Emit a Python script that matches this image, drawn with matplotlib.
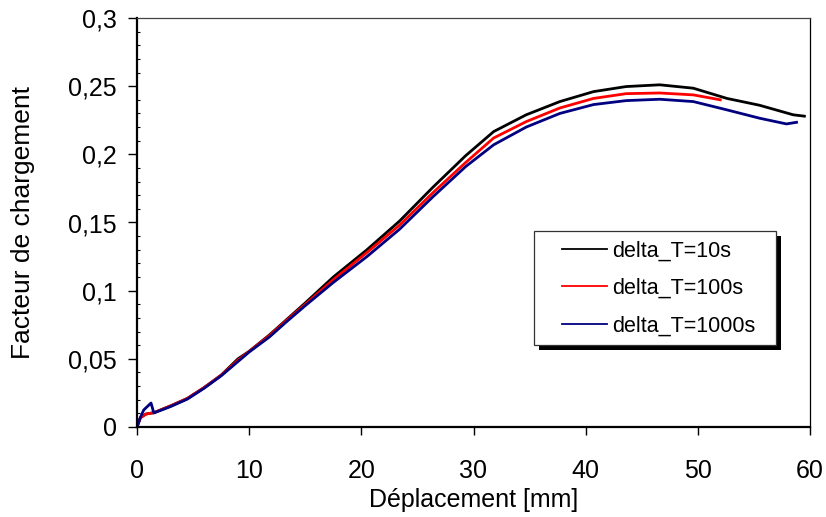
import matplotlib
matplotlib.use("Agg")
import matplotlib.pyplot as plt
from matplotlib.patches import Rectangle

plt.rcParams['font.family'] = ['Liberation Sans', 'DejaVu Sans']

# ---- data ----
x_10 = [0, 0.3, 0.8, 1.5, 3, 4.5, 6, 7.5, 9, 10, 11.8, 13.3, 15, 17.5, 20.5, 23.4,
        26.4, 29.3, 31.8, 34.7, 37.7, 40.7, 43.6, 46.6, 49.6, 52.6, 55.5, 58.5, 59.5]
y_10 = [0, 0.0068, 0.0095, 0.0105, 0.0155, 0.021, 0.029, 0.038, 0.050, 0.0555, 0.0675,
        0.0785, 0.091, 0.110, 0.130, 0.151, 0.176, 0.199, 0.2167, 0.229, 0.2387, 0.246,
        0.2497, 0.251, 0.2485, 0.241, 0.236, 0.229, 0.228]

x_100 = [0, 0.3, 0.8, 1.5, 3, 4.5, 6, 7.5, 9, 10, 11.8, 13.3, 15, 17.5, 20.5, 23.4,
         26.4, 29.3, 31.8, 34.7, 37.7, 40.7, 43.6, 46.6, 49.6, 52.0]
y_100 = [0, 0.0068, 0.0095, 0.0105, 0.0155, 0.021, 0.029, 0.038, 0.049, 0.0555, 0.067,
         0.078, 0.090, 0.108, 0.128, 0.148, 0.172, 0.194, 0.212, 0.224, 0.234, 0.241,
         0.2445, 0.245, 0.2436, 0.240]

x_1000 = [0, 0.3, 0.6, 1.25, 1.5, 3, 4.5, 6, 7.5, 9, 10, 11.8, 13.3, 15, 17.5, 20.5,
          23.4, 26.4, 29.3, 31.8, 34.7, 37.7, 40.7, 43.6, 46.6, 49.6, 52.6, 55.5, 57.9, 58.8]
y_1000 = [0, 0.007, 0.0125, 0.0176, 0.0103, 0.015, 0.0205, 0.0285, 0.0375, 0.048, 0.055,
          0.066, 0.077, 0.089, 0.106, 0.125, 0.145, 0.169, 0.191, 0.207, 0.220, 0.230,
          0.2365, 0.2394, 0.2404, 0.2387, 0.2326, 0.2265, 0.2223, 0.2235]

series_labels = ['delta_T=10s', 'delta_T=100s', 'delta_T=1000s']
series_colors = ['#000000', '#ff0000', '#000080']

x_ticks = [0, 10, 20, 30, 40, 50, 60]
y_ticks = [0, 0.05, 0.1, 0.15, 0.2, 0.25, 0.3]
y_tick_labels = ['0', '0,05', '0,1', '0,15', '0,2', '0,25', '0,3']

# ---- figure ----
W, H = 826, 517
fig = plt.figure(figsize=(W / 100, H / 100), dpi=100)
ax = fig.add_axes([137 / W, 1 - 427 / H, (810 - 137) / W, (427 - 18) / H])

xs = [x_10, x_100, x_1000]
ys = [y_10, y_100, y_1000]
handles = []
for xv, yv, lab, col in zip(xs, ys, series_labels, series_colors):
    ln, = ax.plot(xv, yv, color=col, lw=2.0, label=lab, solid_joinstyle='round')
    handles.append(ln)

ax.set_xlim(0, 60)
ax.set_ylim(0, 0.3)
ax.set_xticks(x_ticks)
ax.set_xticklabels([str(t) for t in x_ticks])
ax.set_yticks(y_ticks)
ax.set_yticklabels(y_tick_labels)
ax.set_yticks([i * 0.01 for i in range(31)], minor=True)

ax.tick_params(axis='x', which='major', direction='out', length=6, width=1,
               pad=17, labelsize=18)
ax.tick_params(axis='y', which='major', direction='out', length=6.5, width=1,
               pad=8, labelsize=18)
ax.tick_params(axis='y', which='minor', direction='in', length=2.5, width=0.8)

for side in ['left', 'bottom']:
    ax.spines[side].set_linewidth(1.6)
    ax.spines[side].set_color('black')
ax.spines['right'].set_linewidth(0.9)
ax.spines['right'].set_color('black')
ax.spines['top'].set_linewidth(0.9)
ax.spines['top'].set_color('#444444')

ax.set_xlabel('Déplacement [mm]', fontsize=18, labelpad=4)
ax.set_ylabel('Facteur de chargement', fontsize=19, labelpad=24)

# legend frame + shadow (figure pixel coords)
lx0, ly0, lx1, ly1 = 534, 231, 776, 345
off = 5
shadow = Rectangle(((lx0 + off) / W, 1 - (ly1 + off) / H), (lx1 - lx0) / W, (ly1 - ly0) / H,
                   transform=fig.transFigure, facecolor='black', edgecolor='black',
                   lw=0, zorder=5)
frame = Rectangle((lx0 / W, 1 - ly1 / H), (lx1 - lx0) / W, (ly1 - ly0) / H,
                  transform=fig.transFigure, facecolor='white', edgecolor='#333333',
                  lw=0.9, zorder=6)
fig.add_artist(shadow)
fig.add_artist(frame)

leg = fig.legend(handles=handles, labels=series_labels, loc='center left',
                 bbox_to_anchor=(562 / W, 1 - 288.5 / H),
                 bbox_transform=fig.transFigure, frameon=False, fontsize=15.5,
                 handlelength=2.1, handletextpad=0.25, labelspacing=0.78,
                 borderpad=0, borderaxespad=0)
leg.set_zorder(7)
for h in leg.get_lines():
    h.set_linewidth(1.3)

fig.savefig('out.png', dpi=100)
